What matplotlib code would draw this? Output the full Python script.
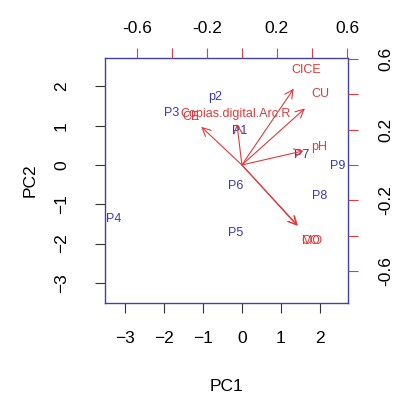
import numpy as np
import matplotlib.pyplot as plt

plt.rcParams['font.family'] = ['Liberation Sans', 'DejaVu Sans']

# scores (PC1, PC2) of the sites
obs = ["P1", "p2", "P3", "P4", "P5", "P6", "P7", "P8", "P9"]
pc1 = [-0.05, -0.69, -1.79, -3.28, -0.15, -0.15, 1.54, 2.00, 2.46]
pc2 = [0.87, 1.72, 1.33, -1.38, -1.72, -0.54, 0.26, -0.80, -0.03]

# loadings of the variables
vars_ = ["CICE", "CU", "Copias.digital.Arc.R", "CE", "pH", "MO", "CO"]
load1 = [0.37, 0.45, -0.035, -0.29, 0.44, 0.40, 0.395]
load2 = [0.54, 0.40, 0.29, 0.27, 0.10, -0.43, -0.43]

blue = "#3838b8"
red = "#e03a3a"
frame = "#4040b0"

lim = (-3.51, 2.72)
ratio = 4.49
lim2 = (lim[0] / ratio, lim[1] / ratio)

fig = plt.figure(figsize=(3.97, 4.01), dpi=100)
pos = [0.2645, 0.2444, 0.612, 0.611]
ax = fig.add_axes(pos)
ax.set_xlim(lim)
ax.set_ylim(lim)
for x, y, s in zip(pc1, pc2, obs):
    ax.text(x, y, s, color=blue, fontsize=9, ha='center', va='center')
ax.set_xticks(range(-3, 3))
ax.set_yticks(range(-3, 3))
ax.tick_params(axis='both', direction='out', length=7, width=0.8,
               color='#333333', labelsize=12.5)
ax.tick_params(axis='x', pad=13)
ax.tick_params(axis='y', pad=19)
for lab in ax.get_yticklabels():
    lab.set_rotation(90)
    lab.set_va('center')
ax.set_xlabel('PC1', fontsize=12.5, labelpad=24)
ax.set_ylabel('PC2', fontsize=12.5, labelpad=12)
for sp in ax.spines.values():
    sp.set_color(frame)
    sp.set_linewidth(1.0)

ax2 = fig.add_axes(pos)
ax2.patch.set_visible(False)
ax2.set_xlim(lim2)
ax2.set_ylim(lim2)
for sp in ax2.spines.values():
    sp.set_visible(False)
ax2.xaxis.tick_top()
ax2.yaxis.tick_right()
t2 = np.round(np.arange(-0.6, 0.61, 0.2), 1)
ax2.set_xticks(t2)
ax2.set_yticks(t2)
labs = [('%g' % v) if i % 2 == 0 else '' for i, v in enumerate(t2)]
ax2.set_xticklabels(labs)
ax2.set_yticklabels(labs, rotation=90, va='center')
ax2.tick_params(axis='both', direction='out', length=7, width=0.8,
                color=red, labelsize=12.5)
ax2.tick_params(axis='x', pad=9)
ax2.tick_params(axis='y', pad=15)
for x, y, s in zip(load1, load2, vars_):
    ax2.annotate('', xy=(0.8 * x, 0.8 * y), xytext=(0, 0),
                 arrowprops=dict(arrowstyle='->,head_length=0.6,head_width=0.3',
                                 color=red, lw=0.8, shrinkA=0, shrinkB=0))
    ax2.text(x, y, s, color=red, fontsize=9, ha='center', va='center')

fig.savefig('out.png', dpi=100)
